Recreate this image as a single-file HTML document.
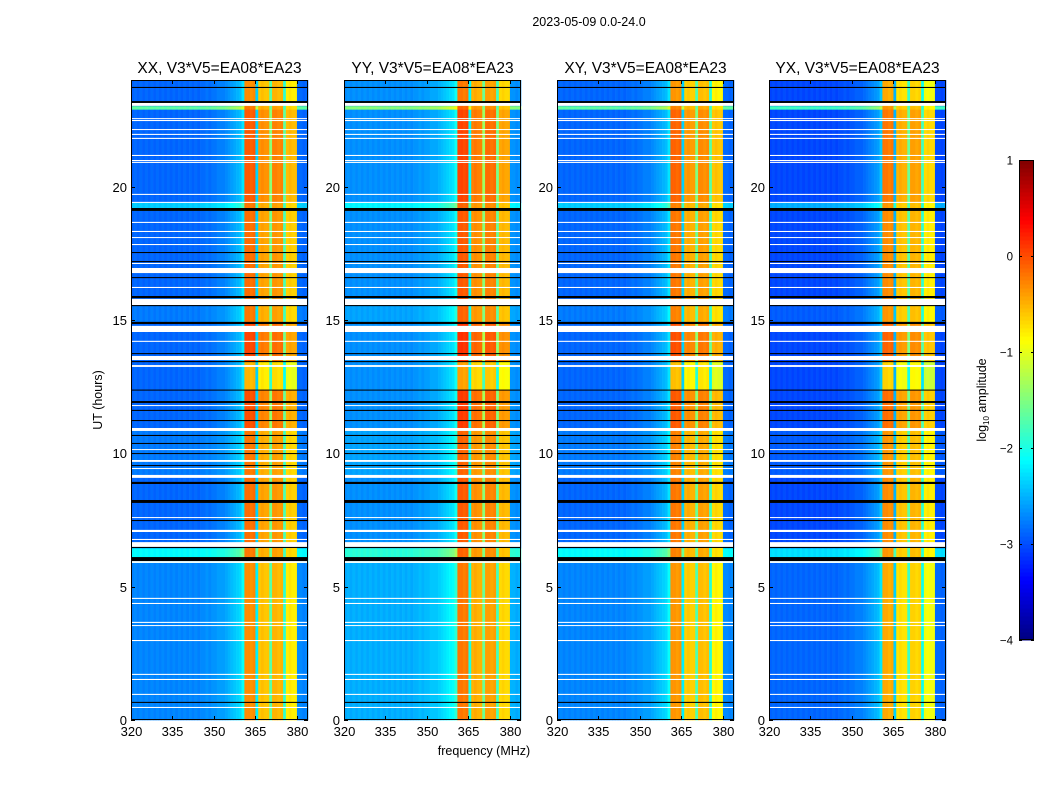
<!DOCTYPE html>
<html><head><meta charset="utf-8">
<style>
html,body{margin:0;padding:0;background:#fff;}
svg text{font-family:"Liberation Sans","DejaVu Sans",sans-serif;fill:#000;}
</style></head>
<body>
<svg id="fig" xmlns="http://www.w3.org/2000/svg" width="1050" height="800" viewBox="0 0 1050 800">
<rect width="1050" height="800" fill="#fff"/>
<text x="589" y="26" font-size="12.5" text-anchor="middle">2023-05-09 0.0-24.0</text>
<g id="panels"></g>
<g id="cbar"></g>
</svg>
<script>
// ---------- data ----------
const panelTitles = ["XX, V3*V5=EA08*EA23","YY, V3*V5=EA08*EA23","XY, V3*V5=EA08*EA23","YX, V3*V5=EA08*EA23"];
const xTicks = [320,335,350,365,380];
const yTicks = [0,5,10,15,20];
const cbarTicks = [1,0,-1,-2,-3,-4];
const cbarTickLabels = ["1","0","\u22121","\u22122","\u22123","\u22124"];
// 1 MHz channels starting at 320 MHz: log10 amplitude (XX)
const channelLevels = [
-2.75,-2.7,-2.75,-2.7,-2.75,-2.7,-2.75,-2.7,-2.75,-2.7,
-2.75,-2.7,-2.75,-2.7,-2.75,-2.7,-2.75,-2.7,-2.75,-2.7,
-2.75,-2.7,-2.75,-2.7,-2.75,-2.7,-2.7,-2.65,-2.7,-2.65,
-2.65,-2.6,-2.6,-2.6,-2.55,-2.5,-2.45,-2.4,-2.35,-2.3,
-2.1,-0.2,-0.2,-0.25,-0.2,-2.2,-0.5,-0.45,-0.5,-0.5,
-1.6,-0.4,-0.4,-0.45,-0.4,-1.8,-0.7,-0.65,-0.7,-0.7,
-2.7,-2.7,-2.75,-2.7];
const panelBgOffset = [-0.15, 0.05, -0.15, -0.3];
const panelBandOffset = [0, 0.1, -0.05, -0.15];
// time segments: [start h, end h, background shift, band shift]
const timeSegments = [
[0,5.9,0.15,-0.1],[5.9,6.45,0.75,0],[6.45,9.2,0,0.05],[9.2,10.9,0.1,0],
[10.9,12.4,0,0.2],[12.4,13.45,0,-0.3],[13.45,14.9,0,0.25],[14.9,15.8,0.1,0],
[15.8,19.1,0,0.05],[19.1,19.4,0.5,0],[19.4,22.9,0,0.15],[22.9,23.03,1.2,0],[23.03,24,0,-0.1]];
// flagged (white) rows [start h, end h]
const flagRows = [
[23.03,23.14],[22.54,22.57],[22.46,22.5],[22.13,22.16],[21.94,21.98],[21.79,21.83],[21.15,21.19],
[20.96,21.0],[20.89,20.93],[19.69,19.73],[19.39,19.43],[18.64,18.68],[18.3,18.34],[18.08,18.11],
[17.81,17.85],[17.1,17.14],[16.76,16.95],[16.2,16.24],[15.56,15.79],[14.55,14.78],[14.18,14.22],
[13.5,13.65],[13.24,13.31],[11.78,11.81],[10.84,10.95],[10.13,10.16],[9.68,9.75],[9.41,9.45],
[9.08,9.19],[7.58,7.61],[7.05,7.13],[6.75,6.79],[6.49,6.67],[5.89,5.96],[4.54,4.58],[4.35,4.39],
[3.64,3.68],[3.53,3.56],[2.96,3.0],[1.69,1.73],[1.5,1.54],[0.94,0.98],[0.45,0.49]];
// black rows [start h, end h]
const blackRows = [
[23.7,23.74],[23.14,23.21],[19.09,19.2],[17.51,17.55],[17.17,17.21],[16.57,16.61],[15.82,15.9],
[15.52,15.56],[14.85,14.93],[13.72,13.76],[13.42,13.46],[12.36,12.39],[11.89,11.96],[11.59,11.63],
[11.21,11.25],[10.65,10.69],[10.35,10.39],[9.98,10.01],[9.53,9.56],[8.85,8.93],[8.14,8.25],
[7.46,7.5],[6.45,6.49],[5.96,6.11],[0.64,0.68]];

// ---------- layout ----------
const NS="http://www.w3.org/2000/svg";
const panelLeft=[131,344,557,769], panelW=177, axTop=80, axBottom=720;
const fMin=320, fMax=384, tMin=0, tMax=24, vMin=-4, vMax=1;
function mk(tag,attrs,parent){const e=document.createElementNS(NS,tag);for(const k in attrs)e.setAttribute(k,attrs[k]);parent.appendChild(e);return e;}
function clip01(x){return Math.max(0,Math.min(1,x));}
function jet(v){const t=clip01((v-vMin)/(vMax-vMin));
 const r=clip01(1.5-Math.abs(4*t-3)),g=clip01(1.5-Math.abs(4*t-2)),b=clip01(1.5-Math.abs(4*t-1));
 return `rgb(${Math.round(r*255)},${Math.round(g*255)},${Math.round(b*255)})`;}
const yScale=t=>axBottom-(t-tMin)/(tMax-tMin)*(axBottom-axTop);
const panelsG=document.getElementById('panels');

panelTitles.forEach((title,p)=>{
 const x0=panelLeft[p];
 const xScale=f=>x0+(f-fMin)/(fMax-fMin)*panelW;
 const g=mk('g',{},panelsG);
 
 
 const hm=mk('g',{},g);
 
 
 timeSegments.forEach(seg=>{
  const y1=yScale(seg[1]), y2=yScale(seg[0]);
  channelLevels.forEach((lv,c)=>{
   const isBand=lv>-1.9;
   const v=lv+(isBand?panelBandOffset[p]+seg[3]:panelBgOffset[p]+seg[2]);
   const xa=xScale(fMin+c), xb=xScale(fMin+c+1);
   const r=mk('rect',{x:xa.toFixed(2),y:y1.toFixed(2),width:(xb-xa+0.3).toFixed(2),height:(y2-y1+0.3).toFixed(2),fill:jet(v)},hm);
   
   
  });
 });
 flagRows.forEach(fr=>{
  const r=mk('rect',{x:x0,y:yScale(fr[1]),width:panelW,height:Math.max(1,yScale(fr[0])-yScale(fr[1])),fill:'#fff'},hm);
  
  
 });
 blackRows.forEach(br=>{
  const r=mk('rect',{x:x0,y:yScale(br[1]),width:panelW,height:Math.max(1,yScale(br[0])-yScale(br[1])),fill:'#000'},hm);
  
  
 });
 const fr=mk('rect',{x:x0+0.5,y:axTop+0.5,width:panelW-1,height:axBottom-axTop-1,fill:'none',stroke:'#000','stroke-width':1},g);
 
 
 xTicks.forEach(f=>{
  const x=Math.round(xScale(f))+0.5;
  mk('line',{x1:x,x2:x,y1:axBottom,y2:axBottom-4,stroke:'#000'},g);
  mk('line',{x1:x,x2:x,y1:axTop,y2:axTop+4,stroke:'#000'},g);
  const t=mk('text',{x:x,y:axBottom+16,'font-size':13,'text-anchor':'middle'},g);
  t.textContent=f;
  
  
 });
 yTicks.forEach(h=>{
  const y=Math.round(yScale(h))+0.5;
  mk('line',{x1:x0,x2:x0+4,y1:y,y2:y,stroke:'#000'},g);
  mk('line',{x1:x0+panelW,x2:x0+panelW-4,y1:y,y2:y,stroke:'#000'},g);
  const t=mk('text',{x:x0-4,y:y+4.5,'font-size':13,'text-anchor':'end'},g);
  t.textContent=h;
  
  
 });
 const tt=mk('text',{x:x0+panelW/2,y:73,'font-size':15.5,'text-anchor':'middle'},g);
 tt.textContent=title;
 
 
});
const yl=mk('text',{x:0,y:0,'font-size':12.5,'text-anchor':'middle',transform:'translate(102,400) rotate(-90)'},panelsG);
yl.textContent='UT (hours)';


const xl=mk('text',{x:484,y:755,'font-size':12.5,'text-anchor':'middle'},panelsG);
xl.textContent='frequency (MHz)';



const cb=document.getElementById('cbar');


const cbX=1019,cbW=15,cbTop=160,cbBot=640;
const cbY=v=>cbBot-(v-vMin)/(vMax-vMin)*(cbBot-cbTop);
for(let i=0;i<120;i++){
 const v0=vMin+(vMax-vMin)*i/120, v1=vMin+(vMax-vMin)*(i+1)/120;
 mk('rect',{x:cbX,y:cbY(v1),width:cbW,height:cbY(v0)-cbY(v1)+0.5,fill:jet((v0+v1)/2)},cb);
}
mk('rect',{x:cbX+0.5,y:cbTop+0.5,width:cbW-1,height:cbBot-cbTop-1,fill:'none',stroke:'#000'},cb);
cbarTicks.forEach((v,i)=>{
 const y=Math.round(cbY(v))+0.5;
 mk('line',{x1:cbX,x2:cbX+3,y1:y,y2:y,stroke:'#000'},cb);
 mk('line',{x1:cbX+cbW,x2:cbX+cbW-3,y1:y,y2:y,stroke:'#000'},cb);
 const t=mk('text',{x:1013,y:y+4,'font-size':11.5,'text-anchor':'end'},cb);
 t.textContent=cbarTickLabels[i];
 
 
});
const cl=mk('text',{x:0,y:0,'font-size':12.5,'text-anchor':'middle',transform:'translate(986,400) rotate(-90)'},cb);
cl.innerHTML='log<tspan font-size="8" dy="3">10</tspan><tspan dy="-3"> amplitude</tspan>';


</script>
</body></html>
